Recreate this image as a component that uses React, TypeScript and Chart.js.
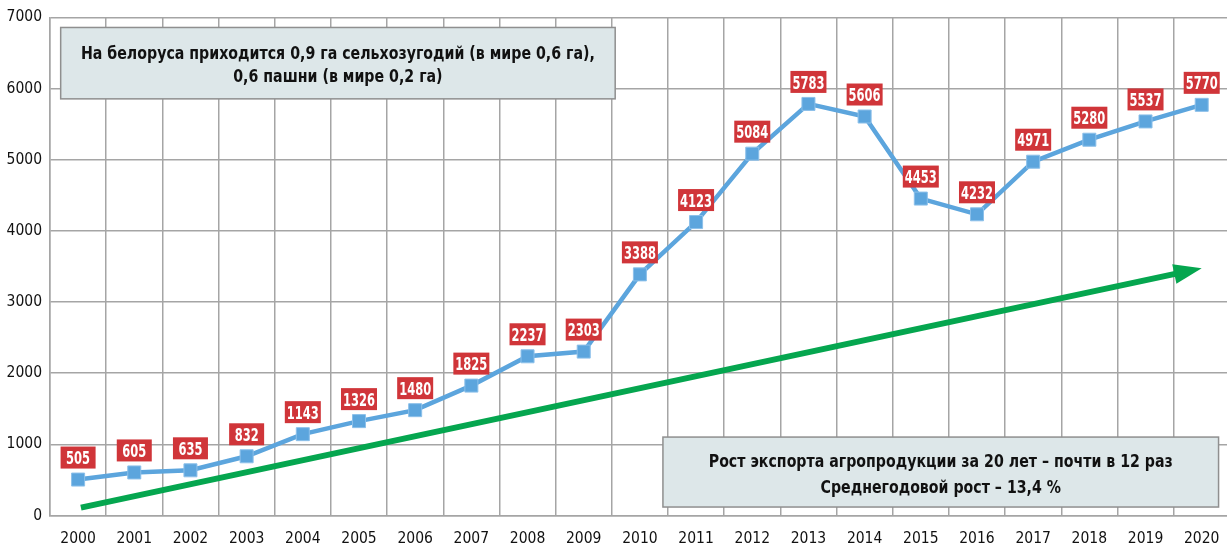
import React, { useEffect, useRef } from "react";
import { Chart, registerables } from "chart.js";

Chart.register(...registerables);

// ---- data ----
const years = [
  "2000", "2001", "2002", "2003", "2004", "2005", "2006", "2007", "2008", "2009", "2010",
  "2011", "2012", "2013", "2014", "2015", "2016", "2017", "2018", "2019", "2020",
];
const exportValues = [
  505, 605, 635, 832, 1143, 1326, 1480, 1825, 2237, 2303, 3388,
  4123, 5084, 5783, 5606, 4453, 4232, 4971, 5280, 5537, 5770,
];
const yTickValues = [0, 1000, 2000, 3000, 4000, 5000, 6000, 7000];
// trend arrow: [category index, value]
const trendFrom = [0.05, 110];
const trendTo = [20.0, 3475];
const noteTopLines = [
  "На белоруса приходится 0,9 га сельхозугодий (в мире 0,6 га),",
  "0,6 пашни (в мире 0,2 га)",
];
const noteBottomLines = [
  "Рост экспорта агропродукции за 20 лет – почти в 12 раз",
  "Среднегодовой рост – 13,4 %",
];

// ---- styling / layout ----
const FONT = '"DejaVu Sans Condensed", "Liberation Sans Narrow", sans-serif';
const GRID = "#a5a5a5";
const BLUE = "#5ca5dd";
const RED = "#d03539";
const GREEN = "#05a64f";
const BOX_FILL = "#dde7e9";
const BOX_STROKE = "#8f8f8f";

// boxes in data coordinates: x = category index, y = value
const noteTopBox = { x0: -0.31, x1: 9.56, y0: 6857, y1: 5854, lineGap: 23, width: 514 };
const noteBottomBox = { x0: 10.41, x1: 20.3, y0: 1102, y1: 119, lineGap: 26, width: 464 };

function drawNote(ctx: CanvasRenderingContext2D, chart: any, box: any, lines: string[]) {
  const xs = chart.scales.x;
  const ys = chart.scales.y;
  const l = xs.getPixelForValue(box.x0);
  const r = xs.getPixelForValue(box.x1);
  const t = ys.getPixelForValue(box.y0);
  const b = ys.getPixelForValue(box.y1);
  ctx.save();
  ctx.fillStyle = BOX_FILL;
  ctx.strokeStyle = BOX_STROKE;
  ctx.lineWidth = 1.5;
  ctx.fillRect(l, t, r - l, b - t);
  ctx.strokeRect(l, t, r - l, b - t);
  ctx.font = `bold 18.5px ${FONT}`;
  ctx.fillStyle = "#111";
  ctx.textAlign = "center";
  ctx.textBaseline = "alphabetic";
  const w0 = ctx.measureText(lines[0]).width;
  let k = box.width / w0;
  k = Math.max(0.7, Math.min(1.25, k));
  const cx = (l + r) / 2;
  const cy = (t + b) / 2 + 1;
  const n = lines.length;
  lines.forEach((line, i) => {
    const yc = cy + (i - (n - 1) / 2) * box.lineGap;
    ctx.save();
    ctx.translate(cx, yc + 6.7);
    ctx.scale(k, 1);
    ctx.fillText(line, 0, 0);
    ctx.restore();
  });
  ctx.restore();
}

const overlayPlugin = {
  id: "overlay",
  beforeDatasetsDraw(chart: any) {
    const ctx: CanvasRenderingContext2D = chart.ctx;
    const xs = chart.scales.x;
    const ys = chart.scales.y;
    // trend arrow
    const x1 = xs.getPixelForValue(trendFrom[0]);
    const y1 = ys.getPixelForValue(trendFrom[1]);
    const x2 = xs.getPixelForValue(trendTo[0]);
    const y2 = ys.getPixelForValue(trendTo[1]);
    const ang = Math.atan2(y2 - y1, x2 - x1);
    const headLen = 28;
    const headHalf = 10;
    const bx = x2 - headLen * Math.cos(ang);
    const by = y2 - headLen * Math.sin(ang);
    ctx.save();
    ctx.strokeStyle = GREEN;
    ctx.fillStyle = GREEN;
    ctx.lineWidth = 6;
    ctx.lineCap = "butt";
    ctx.beginPath();
    ctx.moveTo(x1, y1);
    ctx.lineTo(bx + 2 * Math.cos(ang), by + 2 * Math.sin(ang));
    ctx.stroke();
    ctx.beginPath();
    ctx.moveTo(x2, y2);
    ctx.lineTo(bx - headHalf * Math.sin(ang), by + headHalf * Math.cos(ang));
    ctx.lineTo(bx + headHalf * Math.sin(ang), by - headHalf * Math.cos(ang));
    ctx.closePath();
    ctx.fill();
    ctx.restore();

    drawNote(ctx, chart, noteTopBox, noteTopLines);
    drawNote(ctx, chart, noteBottomBox, noteBottomLines);
  },
  afterDatasetsDraw(chart: any) {
    const ctx: CanvasRenderingContext2D = chart.ctx;
    const meta = chart.getDatasetMeta(0);
    const values = chart.data.datasets[0].data as number[];
    ctx.save();
    ctx.font = `bold 18px ${FONT}`;
    ctx.textAlign = "center";
    ctx.textBaseline = "alphabetic";
    const k = 32 / ctx.measureText("0000").width;
    meta.data.forEach((pt: any, i: number) => {
      const text = String(values[i]);
      const tw = ctx.measureText(text).width * k;
      const w = Math.max(35, tw + 4);
      const h = 22;
      const cx = pt.x;
      const cy = pt.y - 22;
      ctx.fillStyle = RED;
      ctx.fillRect(cx - w / 2, cy - h / 2, w, h);
      ctx.fillStyle = "#ffffff";
      ctx.save();
      ctx.translate(cx, cy + 6.6);
      ctx.scale(k, 1);
      ctx.fillText(text, 0, 0);
      ctx.restore();
    });
    ctx.restore();
  },
};

export default function App() {
  const canvasRef = useRef<HTMLCanvasElement | null>(null);

  useEffect(() => {
    const canvas = canvasRef.current;
    if (!canvas) return;
    const chart = new Chart(canvas, {
      type: "line",
      data: {
        labels: years,
        datasets: [
          {
            data: exportValues,
            borderColor: BLUE,
            borderWidth: 4.5,
            pointStyle: "rect",
            pointRadius: 9.2,
            pointBackgroundColor: BLUE,
            pointBorderColor: "#8cc0ea",
            pointBorderWidth: 1,
            tension: 0,
            fill: false,
          },
        ],
      },
      options: {
        responsive: false,
        animation: false,
        devicePixelRatio: 1,
        layout: { padding: { top: 17, right: 5, left: 0, bottom: 0 } },
        plugins: {
          legend: { display: false },
          tooltip: { enabled: false },
        },
        scales: {
          x: {
            offset: true,
            grid: { offset: true, color: GRID, lineWidth: 1.5, drawTicks: false },
            border: { color: GRID, width: 1.5 },
            ticks: {
              color: "#111",
              font: { family: FONT, size: 15.5 },
              padding: 14,
              maxRotation: 0,
              autoSkip: false,
            },
            afterFit: (s: any) => {
              s.height = 32.5;
            },
          },
          y: {
            min: 0,
            max: 7000,
            afterBuildTicks: (s: any) => {
              s.ticks = yTickValues.map((v) => ({ value: v }));
            },
            grid: { color: GRID, lineWidth: 1.5, drawTicks: false },
            border: { color: GRID, width: 1.5 },
            ticks: {
              color: "#111",
              font: { family: FONT, size: 15.5 },
              padding: 8,
              callback: (v: any) => String(v),
            },
            afterFit: (s: any) => {
              s.width = 50;
            },
          },
        },
      },
      plugins: [overlayPlugin],
    });
    return () => chart.destroy();
  }, []);

  return (
    <div
      style={{
        position: "absolute",
        left: 0,
        top: 0,
        width: 1227,
        height: 548,
        overflow: "hidden",
        background: "#ffffff",
      }}
    >
      <canvas ref={canvasRef} width={1240} height={548} style={{ display: "block" }} />
    </div>
  );
}
